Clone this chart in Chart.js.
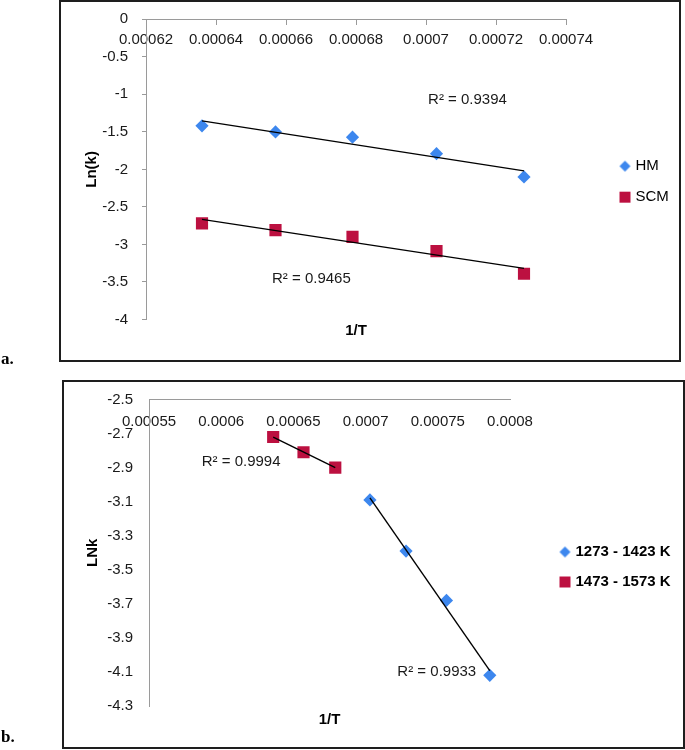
<!DOCTYPE html>
<html><head><meta charset="utf-8">
<script src="https://cdn.jsdelivr.net/npm/chart.js@4.4.1/dist/chart.umd.min.js"></script>
<style>
html,body{margin:0;padding:0;background:#fff;}
#wrap{position:relative;width:685px;height:750px;overflow:hidden;background:#fff;}
canvas{position:absolute;left:0;}
.box{position:absolute;border:2px solid #1e1e1e;box-sizing:border-box;pointer-events:none;}
.lab{position:absolute;font-family:'Liberation Serif','Times New Roman',serif;font-weight:bold;font-size:17px;line-height:20px;color:#000;}
</style></head><body>
<div id="wrap">
<canvas id="ca" width="685" height="362" style="top:0"></canvas>
<canvas id="cb" width="685" height="370" style="top:380px"></canvas>
<div class="box" style="left:59px;top:0;width:622px;height:362px"></div>
<div class="box" style="left:62px;top:380px;width:623px;height:369px"></div>
<div class="lab" style="left:1px;top:349px">a.</div>
<div class="lab" style="left:1px;top:727px">b.</div>
</div>
<script>
// ---------- data ----------
// Chart a
const aX = [0.000636, 0.000657, 0.000679, 0.000703, 0.000728];
const aHM = [-1.42, -1.50, -1.57, -1.79, -2.10];
const aSCM = [-2.72, -2.81, -2.90, -3.09, -3.39];
const aSeriesNames = ['HM', 'SCM'];
const aXTicks = [0.00062, 0.00064, 0.00066, 0.00068, 0.0007, 0.00072, 0.00074];
const aYTicks = [0, -0.5, -1, -1.5, -2, -2.5, -3, -3.5, -4];
const aR2 = ['R\u00B2 = 0.9394', 'R\u00B2 = 0.9465'];
// Chart b
const bLowX = [0.000703, 0.000728, 0.000756, 0.000786];
const bLowY = [-3.09, -3.39, -3.68, -4.12];
const bHighX = [0.000636, 0.000657, 0.000679];
const bHighY = [-2.72, -2.81, -2.90];
const bSeriesNames = ['1273 - 1423 K', '1473 - 1573 K'];
const bXTicks = [0.00055, 0.0006, 0.00065, 0.0007, 0.00075, 0.0008];
const bYTicks = [-2.5, -2.7, -2.9, -3.1, -3.3, -3.5, -3.7, -3.9, -4.1, -4.3];
const bR2 = ['R\u00B2 = 0.9994', 'R\u00B2 = 0.9933'];

// ---------- styles ----------
const BLUE = '#3d87ee', RED = '#bc1040', AXIS = '#9a9a9a', TXT = '#1a1a1a';
Chart.defaults.font.family = "'Liberation Sans', Arial, sans-serif";
Chart.defaults.font.size = 15;
Chart.defaults.color = TXT;

function pts(xs, ys) { return xs.map((x, i) => ({x: x, y: ys[i]})); }
function trend(xs, ys) {
  const n = xs.length;
  const mx = xs.reduce((s, v) => s + v, 0) / n, my = ys.reduce((s, v) => s + v, 0) / n;
  let sxy = 0, sxx = 0;
  for (let i = 0; i < n; i++) { sxy += (xs[i] - mx) * (ys[i] - my); sxx += (xs[i] - mx) * (xs[i] - mx); }
  const k = sxy / sxx;
  const x0 = Math.min(...xs), x1 = Math.max(...xs);
  return [{x: x0, y: my + k * (x0 - mx)}, {x: x1, y: my + k * (x1 - mx)}];
}
function marker(shape, size, color) {
  const c = document.createElement('canvas');
  c.width = size + 2; c.height = size + 2;
  const g = c.getContext('2d');
  g.fillStyle = color;
  const m = (size + 2) / 2;
  if (shape === 'diamond') {
    g.beginPath(); g.moveTo(m, m - size / 2); g.lineTo(m + size / 2, m); g.lineTo(m, m + size / 2); g.lineTo(m - size / 2, m); g.closePath(); g.fill();
  } else { g.fillRect(1, 1, size, size); }
  return c;
}
function diamondSet(label, data) {
  return {label: label, data: data, pointStyle: 'rectRot', pointRadius: 6.6, pointHoverRadius: 6.6,
    backgroundColor: BLUE, borderColor: BLUE, pointBorderWidth: 0, showLine: false, order: 1};
}
function squareSet(label, data) {
  return {label: label, data: data, pointStyle: 'rect', pointRadius: 8.6, pointHoverRadius: 8.6,
    backgroundColor: RED, borderColor: RED, pointBorderWidth: 0, showLine: false, order: 1};
}
function trendSet(data) {
  return {label: '_trend', data: data, showLine: true, borderColor: '#000', borderWidth: 1.4,
    pointRadius: 0, pointHoverRadius: 0, fill: false, order: 0};
}

const r2Plugin = {
  id: 'r2labels',
  afterDatasetsDraw(chart, args, opts) {
    const ctx = chart.ctx, sx = chart.scales.x, sy = chart.scales.y;
    ctx.save();
    ctx.font = "15px 'Liberation Sans', Arial, sans-serif";
    ctx.fillStyle = TXT; ctx.textAlign = 'left'; ctx.textBaseline = 'middle';
    (opts.items || []).forEach(l => ctx.fillText(l.text, sx.getPixelForValue(l.x), sy.getPixelForValue(l.y)));
    ctx.restore();
  }
};

function noPad(s) { s.paddingTop = 0; s.paddingBottom = 0; }

function build(id, p) {
  const markers = p.markers;
  return new Chart(document.getElementById(id), {
    type: 'scatter',
    data: {datasets: p.datasets},
    plugins: [r2Plugin],
    options: {
      responsive: false, animation: false, devicePixelRatio: 1,
      layout: {padding: p.pad},
      plugins: {
        legend: {
          position: 'right', align: 'center', maxWidth: p.legendW,
          labels: {
            usePointStyle: true, boxWidth: 6, boxHeight: 10, padding: p.legendPad,
            color: '#000', font: {size: 15, weight: p.legendBold ? 'bold' : 'normal'},
            generateLabels: (chart) => Chart.defaults.plugins.legend.labels.generateLabels(chart)
              .filter(it => chart.data.datasets[it.datasetIndex].label !== '_trend')
              .map(it => { it.pointStyle = markers[it.datasetIndex]; return it; })
          }
        },
        tooltip: {enabled: false},
        r2labels: {items: p.r2}
      },
      scales: {
        x: {
          type: 'linear', position: {y: p.yMax}, min: p.xMin, max: p.xMax,
          afterBuildTicks: s => { s.ticks = p.xTicks.map(v => ({value: v})); },
          afterFit: s => { s.height = 0; },
          grid: {display: p.tickMarks, drawOnChartArea: false, drawTicks: p.tickMarks, tickLength: 5, color: AXIS},
          border: {display: true, color: AXIS, width: 1},
          ticks: {padding: p.xPad, color: TXT, font: {size: 15}, maxRotation: 0, minRotation: 0, autoSkip: false,
            callback: v => String(v)}
        },
        y: {
          type: 'linear', position: 'left', min: p.yMin, max: p.yMax,
          afterBuildTicks: s => { s.ticks = p.yTicks.slice().sort((a, b) => a - b).map(v => ({value: v})); },
          afterFit: s => { s.width = p.yW; noPad(s); },
          grid: {display: p.tickMarks, drawOnChartArea: false, drawTicks: p.tickMarks, tickLength: 4, color: AXIS},
          border: {display: true, color: AXIS, width: 1},
          ticks: {padding: p.yPad, color: TXT, font: {size: 15}, autoSkip: false, callback: v => String(v)},
          title: {display: true, text: p.yTitle, color: '#000', font: {size: 15, weight: 'bold'},
            padding: {top: p.yTitleOff, bottom: 0}}
        },
        x2: {
          type: 'linear', position: 'bottom', display: true,
          grid: {display: false, drawTicks: false}, border: {display: false}, ticks: {display: false},
          afterFit: s => { s.height = p.x2H; },
          title: {display: true, text: '1/T', color: '#000', font: {size: 15, weight: 'bold'},
            padding: {top: 0, bottom: p.x2Pad}}
        },
        y2: {
          type: 'linear', position: 'right', display: true,
          grid: {display: false, drawTicks: false}, border: {display: false}, ticks: {display: false},
          afterFit: s => { s.width = p.gap; noPad(s); }
        }
      }
    }
  });
}

// Chart a
build('ca', {
  datasets: [
    diamondSet(aSeriesNames[0], pts(aX, aHM)),
    squareSet(aSeriesNames[1], pts(aX, aSCM)),
    trendSet(trend(aX, aHM)),
    trendSet(trend(aX, aSCM))
  ],
  markers: [marker('diamond', 11, BLUE), marker('square', 11, RED)],
  pad: {top: 19.3, left: 0, right: 13, bottom: 18},
  legendW: 66, legendPad: 16, legendBold: false, gap: 40,
  xMin: 0.00062, xMax: 0.00074, yMin: -4, yMax: 0,
  xTicks: aXTicks, yTicks: aYTicks, tickMarks: true,
  xPad: 7, yPad: 14, yW: 146, yTitle: 'Ln(k)', yTitleOff: 83,
  x2H: 24.5, x2Pad: 4.3,
  r2: [{text: aR2[0], x: 0.0007006, y: -1.076}, {text: aR2[1], x: 0.000656, y: -3.463}]
});

// Chart b
build('cb', {
  datasets: [
    diamondSet(bSeriesNames[0], pts(bLowX, bLowY)),
    squareSet(bSeriesNames[1], pts(bHighX, bHighY)),
    trendSet(trend(bLowX, bLowY)),
    trendSet(trend(bHighX, bHighY))
  ],
  markers: [marker('diamond', 11, BLUE), marker('square', 11, RED)],
  pad: {top: 19.5, left: 0, right: 13, bottom: 15.5},
  legendW: 125, legendPad: 15, legendBold: true, gap: 37,
  xMin: 0.00055, xMax: 0.0008, yMin: -4.3, yMax: -2.5,
  xTicks: bXTicks, yTicks: bYTicks, tickMarks: false,
  xPad: 13, yPad: 16, yW: 149, yTitle: 'LNk', yTitleOff: 84,
  x2H: 28.5, x2Pad: 5.5,
  r2: [{text: bR2[0], x: 0.0005865, y: -2.865}, {text: bR2[1], x: 0.000722, y: -4.098}]
});
</script>
</body></html>
